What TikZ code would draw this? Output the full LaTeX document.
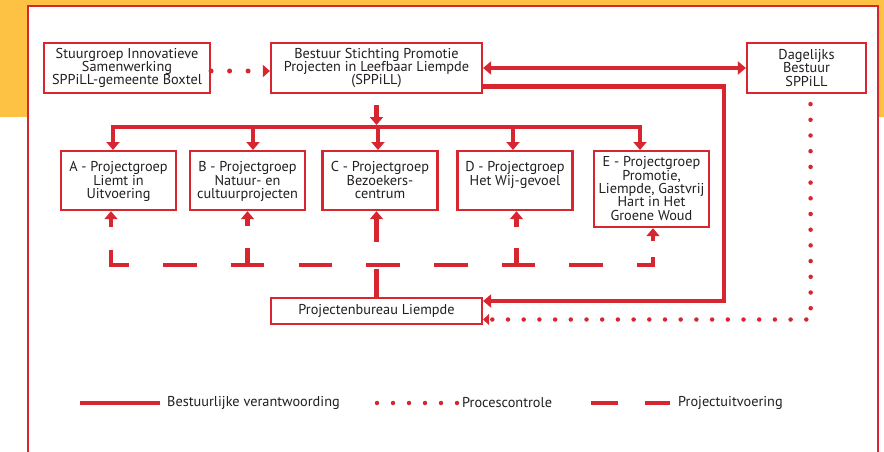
\documentclass[tikz,border=0pt]{standalone}
\usepackage{fontspec}
\setmainfont{PT Sans}
\usetikzlibrary{arrows.meta}

\definecolor{sppred}{HTML}{D7262F}
\definecolor{sppyellow}{HTML}{FDC244}
\definecolor{spptext}{HTML}{231F20}

\tikzset{
  box/.style={draw=sppred, line width=2.2pt, fill=white, text=spptext, align=center,
    inner sep=0pt, font=\fontsize{14.3}{13.3}\selectfont},
  grp/.style={box, anchor=north, minimum width=115pt, text height=47.3pt, text depth=11.7pt},
  rule/.style={sppred, line width=4.5pt},
  exec/.style={rule, dash pattern=on 33.5pt off 34.2pt},
  dots/.style={sppred, line width=4.5pt, line cap=round, dash pattern=on 0pt off 15.7pt},
  legend/.style={anchor=west, text=spptext, inner sep=0pt, font=\fontsize{14.3}{13.3}\selectfont},
  >={Triangle[length=8pt,width=13pt]}
}

\begin{document}
\begin{tikzpicture}[x=1pt,y=-1pt]
\useasboundingbox (0,0) rectangle (884,452);
\fill[sppyellow] (0,0) rectangle (884,117);
\draw[sppred, line width=2pt, fill=white] (28,6) rectangle (878,470);

\node[box, minimum width=166pt, minimum height=50pt] (stuur) at (127,68) {Stuurgroep Innovatieve\\Samenwerking\\SPPiLL-gemeente Boxtel};
\node[box, minimum width=211pt, minimum height=50pt] (bestuur) at (376.5,68) {Bestuur Stichting Promotie\\Projecten in Leefbaar Liempde\\(SPPiLL)};
\node[box, minimum width=119pt, minimum height=50pt] (dagelijks) at (806.5,68) {Dagelijks\\Bestuur\\SPPiLL};

\node[grp] (A) at (118.5,150) {A - Projectgroep\\Liemt in\\Uitvoering};
\node[grp] (B) at (247.5,150) {B - Projectgroep\\Natuur- en\\cultuurprojecten};
\node[grp] (C) at (380,150) {C - Projectgroep\\Bezoekers-\\centrum};
\node[grp, text height=34pt, text depth=25pt] (D) at (515,150) {D - Projectgroep\\Het Wij-gevoel};
\node[grp, text height=69pt, text depth=7pt] (E) at (651.5,150) {E - Projectgroep\\Promotie,\\Liempde, Gastvrij\\Hart in Het\\Groene Woud};

\node[box, minimum width=211pt, minimum height=26pt] (bureau) at (376.5,311) {Projectenbureau Liempde};

% bestuurlijke verantwoording
\coordinate (bus) at (0,127);
\foreach \g/\dx in {A/-5.5,B/5.5,C/-2,D/-2,E/-11.5}
  \coordinate (\g-in) at ([xshift=\dx pt]\g.north);
\draw[rule, line cap=rect] (A-in |- bus) -- (E-in |- bus);
\foreach \g in {A,B,C,D,E}
  \draw[rule,->] (\g-in |- bus) -- (\g-in);
\draw[rule,->, shorten <=11pt, shorten >=2pt] (bestuur.south) -- (bestuur.south |- bus);
\draw[rule,<->] (bestuur.east) -- (dagelijks.west);
\coordinate (bocht) at (724,301);
\draw[rule,->] ([yshift=-18.5pt]bestuur.east) -| (bocht) -- (bocht -| bureau.east);

% procescontrole
\draw[dots, line width=5pt, dash pattern=on 0pt off 18.5pt, -{Triangle[length=7pt,width=12pt]}]
  ([yshift=-3pt]stuur.east) -- ([yshift=-3pt]bestuur.west);
\coordinate (hoek) at (810.7,319.5);
\draw[dots, -{Triangle[length=6pt,width=11pt]}] ([xshift=4pt,yshift=-10pt]dagelijks.south) -- (hoek) -- (hoek -| bureau.east);

% projectuitvoering
\coordinate (bus2) at (0,265);
\foreach \g/\dx in {A/-7.5,B/0,D/1.5,E/1.5}
  \coordinate (\g-out) at ([xshift=\dx pt]\g.south);
\coordinate (A-foot) at (A-out |- bus2);
\coordinate (E-foot) at (E-out |- bus2);
\draw[exec] ([yshift=15.5pt]A-foot) -- (A-foot) -- (E-foot) -- ([yshift=8pt]E-foot);
\foreach \g in {B,D}
  \draw[rule] (\g-out |- bus2) -- ++(0,-17);
\foreach \g/\len in {A/16,B/15,D/16,E/13}
  \draw[rule,->] ([yshift=-\len pt]\g-out) -- (\g-out);
\draw[exec, dash pattern=on 28pt off 27pt, ->] (bureau.north) -- (bureau.north |- C.south);

% legenda
\node[legend] (l1) at (167,403) {Bestuurlijke verantwoording};
\node[legend] (l2) at (462,403) {Procescontrole};
\node[legend] (l3) at (678,403) {Projectuitvoering};
\draw[rule] ([xshift=-87pt]l1.west) -- ([xshift=-7pt]l1.west);
\draw[dots, dash pattern=on 0pt off 16pt] ([xshift=-85pt]l2.west) -- ([xshift=-5pt]l2.west);
\draw[rule, dash pattern=on 26.5pt off 27pt] ([xshift=-87pt]l3.west) -- ([xshift=-8pt]l3.west);
\end{tikzpicture}
\end{document}
